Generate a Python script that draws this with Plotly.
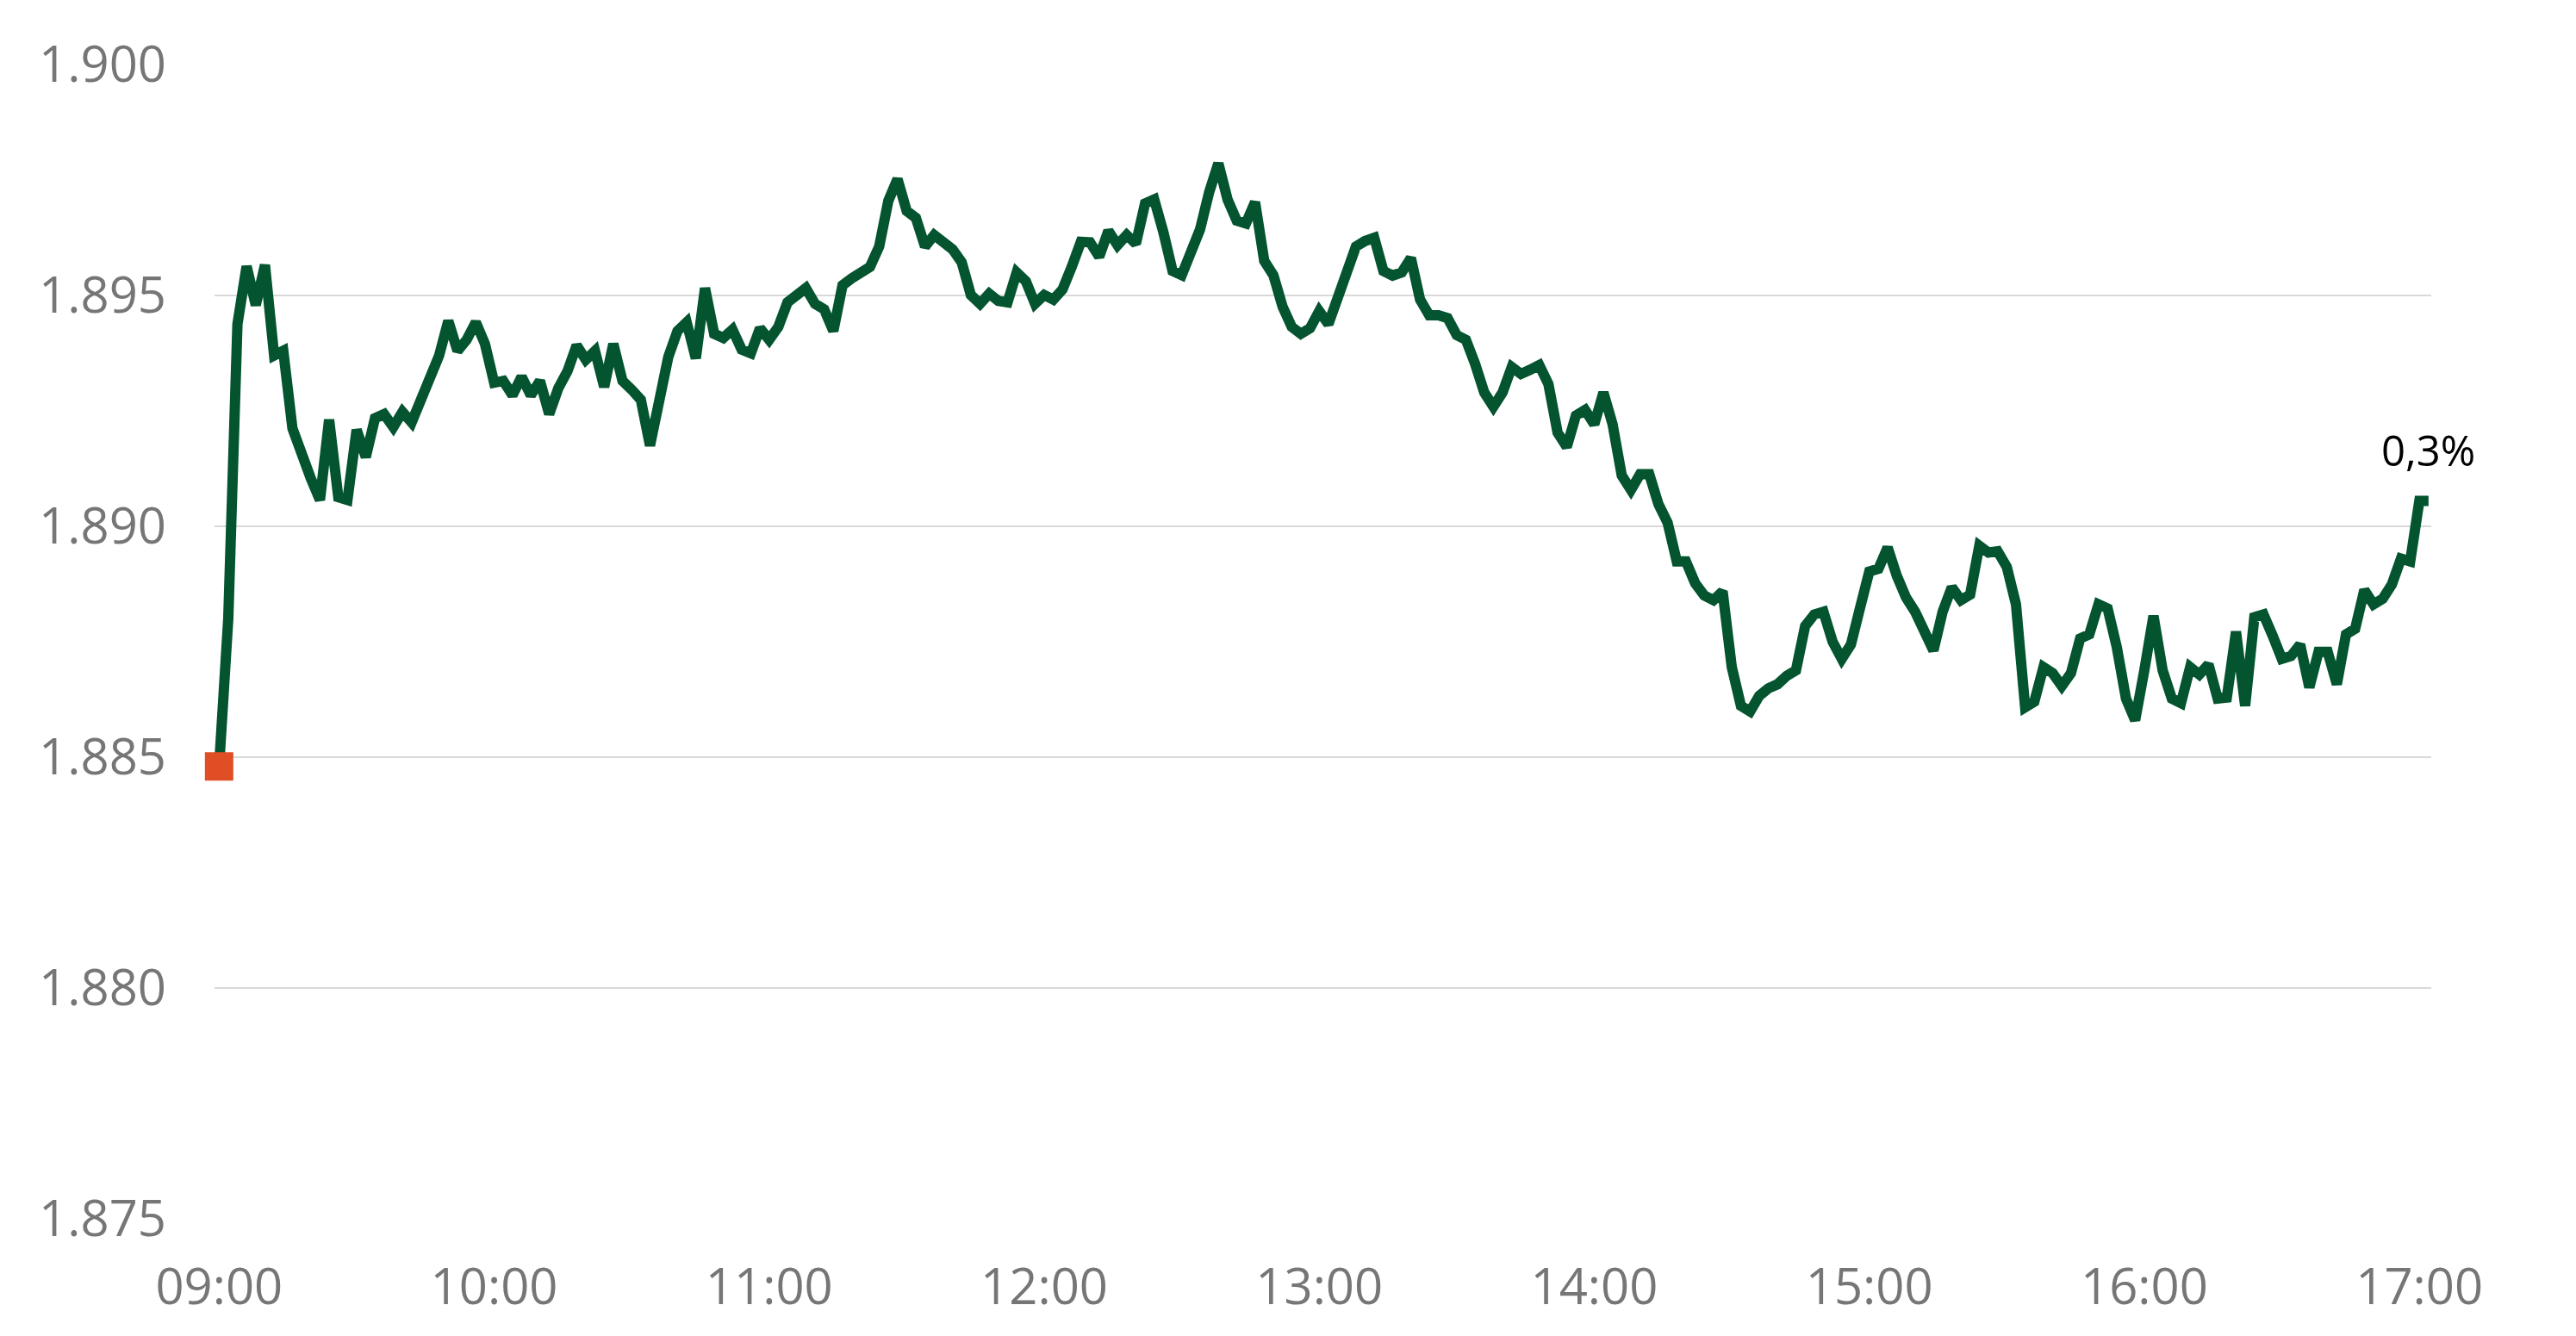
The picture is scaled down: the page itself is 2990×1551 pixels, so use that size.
import pandas as pd
import plotly.graph_objects as go

# kurs dagen, en punkt varannan minut från 09:00
values = [
    1884.80, 1888.00, 1894.38, 1895.63, 1894.79, 1895.66, 1893.70, 1893.80, 1892.12, 1891.50,
    1891.04, 1890.57, 1892.31, 1890.63, 1890.57, 1892.09, 1891.50, 1892.34, 1892.43, 1892.15,
    1892.48, 1892.25, 1892.71, 1893.21, 1893.70, 1894.45, 1893.80, 1894.04, 1894.42, 1893.95,
    1893.11, 1893.15, 1892.84, 1893.24, 1892.84, 1893.15, 1892.43, 1892.99, 1893.36, 1893.92,
    1893.61, 1893.80, 1893.02, 1893.95, 1893.15, 1892.96, 1892.74, 1891.75, 1892.71, 1893.67,
    1894.23, 1894.42, 1893.64, 1895.16, 1894.17, 1894.08, 1894.26, 1893.83, 1893.75, 1894.29,
    1894.04, 1894.32, 1894.85, 1894.98, 1895.16, 1894.82, 1894.70, 1894.23, 1895.22, 1895.37,
    1895.50, 1895.62, 1896.06, 1897.05, 1897.52, 1896.83, 1896.68, 1896.06, 1896.31, 1896.12,
    1896.00, 1895.72, 1895.01, 1894.82, 1895.04, 1894.88, 1894.85, 1895.50, 1895.31, 1894.82,
    1895.01, 1894.91, 1895.13, 1895.62, 1896.16, 1896.15, 1895.84, 1896.40, 1896.09, 1896.31,
    1896.12, 1896.99, 1897.08, 1896.37, 1895.53, 1895.44, 1895.87, 1896.43, 1897.24, 1897.86,
    1897.08, 1896.62, 1896.56, 1897.02, 1895.75, 1895.44, 1894.76, 1894.32, 1894.17, 1894.29,
    1894.66, 1894.38, 1894.94, 1895.50, 1896.06, 1896.18, 1896.25, 1895.53, 1895.43, 1895.50,
    1895.81, 1894.91, 1894.57, 1894.57, 1894.51, 1894.14, 1894.04, 1893.52, 1892.90, 1892.59,
    1892.90, 1893.45, 1893.30, 1893.39, 1893.49, 1893.08, 1892.03, 1891.72, 1892.40, 1892.52,
    1892.21, 1892.90, 1892.21, 1891.10, 1890.79, 1891.13, 1891.13, 1890.48, 1890.08, 1889.24,
    1889.24, 1888.77, 1888.50, 1888.40, 1888.59, 1886.95, 1886.11, 1885.99, 1886.33, 1886.49,
    1886.58, 1886.76, 1886.88, 1887.84, 1888.09, 1888.15, 1887.50, 1887.13, 1887.44, 1888.24,
    1889.02, 1889.08, 1889.54, 1888.93, 1888.46, 1888.15, 1887.75, 1887.31, 1888.15, 1888.68,
    1888.40, 1888.52, 1889.58, 1889.43, 1889.46, 1889.12, 1888.31, 1886.08, 1886.20, 1886.95,
    1886.82, 1886.54, 1886.82, 1887.57, 1887.66, 1888.31, 1888.22, 1887.38, 1886.27, 1885.80,
    1886.88, 1888.06, 1886.88, 1886.27, 1886.17, 1886.95, 1886.79, 1887.01, 1886.27, 1886.29,
    1887.72, 1886.11, 1888.03, 1888.09, 1887.63, 1887.13, 1887.19, 1887.44, 1886.51, 1887.28,
    1887.28, 1886.58, 1887.66, 1887.78, 1888.62, 1888.31, 1888.43, 1888.74, 1889.30, 1889.24,
    1890.55, 1890.55,
]
times = pd.date_range("2024-01-02 09:00", periods=len(values), freq="2min")

y_ticks = [1875, 1880, 1885, 1890, 1895, 1900]
x_ticks = pd.date_range("2024-01-02 09:00", "2024-01-02 17:00", freq="1h")
x_labels = ["09:00", "10:00", "11:00", "12:00", "13:00", "14:00", "15:00", "16:00", "17:00"]

GREEN = "#03542F"
RED = "#E04E25"
GREY = "#767676"

fig = go.Figure()

fig.add_trace(go.Scatter(
    x=times, y=values, mode="lines",
    line=dict(color=GREEN, width=12),
    cliponaxis=False,
    hoverinfo="skip", showlegend=False,
))

# startpunkt
fig.add_trace(go.Scatter(
    x=[times[0]], y=[values[0]], mode="markers",
    marker=dict(symbol="square", size=33, color=RED),
    cliponaxis=False,
    hoverinfo="skip", showlegend=False,
))

change = (values[-1] / values[0] - 1) * 100
fig.add_annotation(
    x=times[-1], y=values[-1],
    text=f"{change:.1f}%".replace(".", ","),
    showarrow=False, xanchor="center", yanchor="bottom", yshift=25,
    font=dict(family="Open Sans", size=49, color="#000000"),
)

fig.update_layout(
    width=2974, height=1535,
    margin=dict(l=241, r=160, t=67, b=126, pad=0),
    paper_bgcolor="white", plot_bgcolor="white",
    separators=",.",
    font=dict(family="Open Sans", size=58, color=GREY),
)

fig.update_xaxes(
    range=[times[0] - pd.Timedelta(minutes=1), times[-1] + pd.Timedelta(minutes=0.6)],
    tickvals=x_ticks, ticktext=x_labels,
    showgrid=False, zeroline=False, showline=False,
    ticks="", ticklabelstandoff=40,
    tickfont=dict(family="Open Sans", size=58, color=GREY),
)

fig.update_yaxes(
    range=[1875, 1900],
    tickvals=y_ticks, tickformat=",.0f",
    showgrid=True, gridcolor="#D9D9D9", gridwidth=2,
    zeroline=False, showline=False,
    ticks="", ticklabelstandoff=55,
    tickfont=dict(family="Open Sans", size=58, color=GREY),
)

fig.write_html("out.html")
